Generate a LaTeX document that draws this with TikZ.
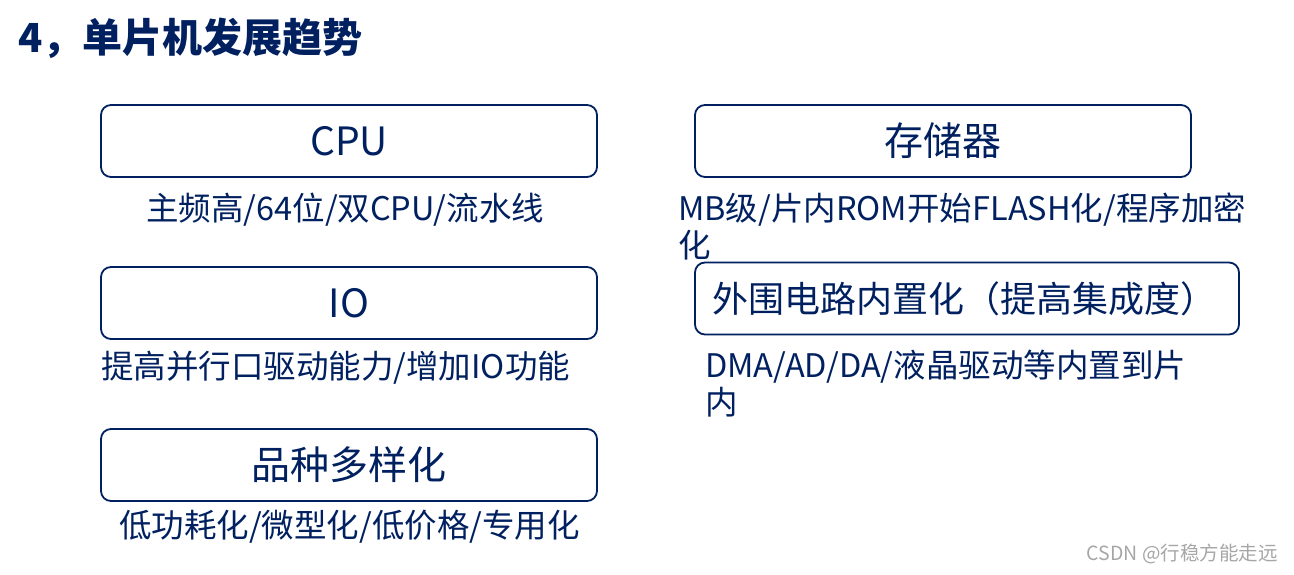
\documentclass[tikz,border=0pt]{standalone}
\usepackage{fontspec}
\setmainfont{Noto Sans CJK SC}
\definecolor{navy}{HTML}{002060}
\definecolor{wmgray}{HTML}{A6A6A6}
\begin{document}
\begin{tikzpicture}[x=1pt,y=-1pt,
  box/.style={draw=navy,line width=1.8pt,rounded corners=10pt,minimum height=72pt,
    inner sep=0pt,text=navy,font=\fontsize{39}{42}\selectfont},
  sub/.style={anchor=west,inner sep=0pt,text=navy,align=left,font=\fontsize{32.5}{37}\selectfont}]
\useasboundingbox (0,0) rectangle (1294,574);
\node[anchor=west,inner sep=0pt,text=navy,font=\fontsize{40}{44}\bfseries] (title) at (18,38) {4，单片机发展趋势};
\node[box,minimum width=496pt] (cpu) at (349,141) {CPU};
\node[sub] (cpusub) at (146,210) {主频高/64位/双CPU/流水线};
\node[box,minimum width=496pt] (io) at (349,303) {IO};
\node[sub] (iosub) at (101,368) {提高并行口驱动能力/增加IO功能};
\node[box,minimum width=496pt] (var) at (349,465) {品种多样化};
\node[sub] (varsub) at (119,527) {低功耗化/微型化/低价格/专用化};
\node[box,minimum width=496pt] (mem) at (943,141) {存储器};
\node[sub,anchor=north west] (memsub) at (678,193) {MB级/片内ROM开始FLASH化/程序加密\\化};
\node[box,minimum width=544pt,text width=510pt,align=left,inner xsep=17pt,font=\fontsize{36}{40}\selectfont] (per) at (967,298.5) {外围电路内置化（提高集成度）};
\node[sub,anchor=north west] (persub) at (705,350) {DMA/AD/DA/液晶驱动等内置到片\\内};
\node[anchor=east,inner sep=0pt,text=wmgray,font=\fontsize{19.5}{22}\selectfont] (wm) at (1278,554) {CSDN @行稳方能走远};
\end{tikzpicture}
\end{document}
